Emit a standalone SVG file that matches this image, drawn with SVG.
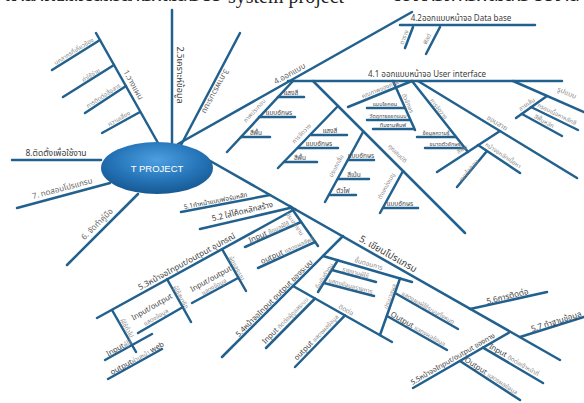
<svg xmlns="http://www.w3.org/2000/svg" width="584" height="403" viewBox="0 0 584 403">
<defs>
<radialGradient id="hub" cx="50%" cy="35%" r="65%">
<stop offset="0" stop-color="#4d9fe2"/>
<stop offset="0.6" stop-color="#2574b8"/>
<stop offset="1" stop-color="#175891"/>
</radialGradient>
<style>
text{font-family:'Noto Sans Thai','Noto Sans Thai UI','Loma','Garuda','Norasi','Tlwg Typo','DejaVu Sans','Noto Sans',sans-serif;text-anchor:middle}
.ln{stroke:#22618e;stroke-width:2.5;stroke-linecap:round;fill:none}
.m{font-size:8.5px;fill:#3c3c3c}
.g{font-size:8px;fill:#666}
.s{font-size:6px;fill:#8a8a8a}
.d{font-size:6.5px;fill:#454545}
.e{font-size:7.5px;fill:#444}
.st{text-anchor:start}
.hub{font-family:'Liberation Sans',Arial,sans-serif;font-size:9.5px;fill:#fff}
.top{font-size:20px;fill:#222;text-anchor:start}
</style>
</defs>
<rect width="584" height="403" fill="#fff"/>

<!-- heading line running off the top edge -->
<text class="top" x="4" y="1" textLength="218">แผนผังแสดงขั้นตอนการพัฒนาระบบ</text>
<text class="top" x="228" y="3" style="font-family:'Liberation Serif',serif">system project</text>
<text class="top" x="392" y="1" textLength="188">ของโครงการพัฒนาระบบงาน</text>

<g id="connectors">
<line class="ln" x1="12" y1="160" x2="101" y2="160"/>
<line class="ln" x1="17" y1="208" x2="110" y2="183"/>
<line class="ln" x1="67" y1="265" x2="138" y2="194"/>
<line class="ln" x1="96" y1="33" x2="158" y2="143"/>
<line class="ln" x1="52" y1="70" x2="100" y2="40"/>
<line class="ln" x1="63" y1="97" x2="114" y2="65"/>
<line class="ln" x1="85" y1="113" x2="126" y2="86"/>
<line class="ln" x1="102" y1="133" x2="140" y2="112"/>
<line class="ln" x1="172" y1="10" x2="172" y2="143"/>
<line class="ln" x1="240" y1="33" x2="181" y2="145"/>
<line class="ln" x1="178" y1="144" x2="412" y2="12"/>
<line class="ln" x1="400" y1="25" x2="535" y2="25"/>
<line class="ln" x1="413" y1="27" x2="405" y2="48"/>
<line class="ln" x1="440" y1="27" x2="426" y2="54"/>
<line class="ln" x1="288" y1="81" x2="562" y2="81"/>
<line class="ln" x1="293" y1="81" x2="227" y2="152"/>
<line class="ln" x1="278" y1="97" x2="304" y2="97"/>
<line class="ln" x1="259" y1="117" x2="295" y2="117"/>
<line class="ln" x1="241" y1="137" x2="270" y2="137"/>
<line class="ln" x1="313" y1="81" x2="465" y2="233"/>
<line class="ln" x1="338" y1="106" x2="278" y2="168"/>
<line class="ln" x1="311" y1="135" x2="347" y2="135"/>
<line class="ln" x1="298" y1="148" x2="338" y2="148"/>
<line class="ln" x1="284" y1="162" x2="317" y2="162"/>
<line class="ln" x1="363" y1="132" x2="325" y2="202"/>
<line class="ln" x1="348" y1="160" x2="374" y2="160"/>
<line class="ln" x1="338" y1="179" x2="369" y2="179"/>
<line class="ln" x1="330" y1="195" x2="356" y2="195"/>
<line class="ln" x1="403" y1="171" x2="380" y2="213"/>
<line class="ln" x1="383" y1="208" x2="418" y2="208"/>
<line class="ln" x1="348" y1="107" x2="412" y2="81"/>
<line class="ln" x1="393" y1="81" x2="415" y2="130"/>
<line class="ln" x1="367" y1="108" x2="405" y2="108"/>
<line class="ln" x1="367" y1="120" x2="410" y2="120"/>
<line class="ln" x1="373" y1="129" x2="414" y2="129"/>
<line class="ln" x1="412" y1="81" x2="468" y2="152"/>
<line class="ln" x1="417" y1="137" x2="456" y2="137"/>
<line class="ln" x1="425" y1="148" x2="465" y2="148"/>
<line class="ln" x1="418" y1="81" x2="577" y2="178"/>
<line class="ln" x1="500" y1="131" x2="437" y2="172"/>
<line class="ln" x1="478" y1="145" x2="520" y2="173"/>
<line class="ln" x1="487" y1="151" x2="457" y2="187"/>
<line class="ln" x1="513" y1="81" x2="584" y2="112"/>
<line class="ln" x1="547" y1="96" x2="516" y2="118"/>
<line class="ln" x1="531" y1="107" x2="578" y2="130"/>
<line class="ln" x1="522" y1="114" x2="562" y2="136"/>
<line class="ln" x1="205" y1="158" x2="560" y2="360"/>
<line class="ln" x1="181" y1="212" x2="270" y2="195"/>
<line class="ln" x1="200" y1="229" x2="292" y2="207.5"/>
<line class="ln" x1="97" y1="318" x2="295" y2="209"/>
<line class="ln" x1="112" y1="310" x2="136" y2="352"/>
<line class="ln" x1="167" y1="279" x2="191" y2="322"/>
<line class="ln" x1="222" y1="249" x2="246" y2="291"/>
<line class="ln" x1="105" y1="360" x2="152" y2="334"/>
<line class="ln" x1="108" y1="379" x2="162" y2="349"/>
<line class="ln" x1="138" y1="333" x2="183" y2="307"/>
<line class="ln" x1="192" y1="303" x2="238" y2="278"/>
<line class="ln" x1="290" y1="206" x2="318" y2="246"/>
<line class="ln" x1="245" y1="247" x2="301" y2="222"/>
<line class="ln" x1="258" y1="268" x2="315" y2="242"/>
<line class="ln" x1="222" y1="357" x2="343" y2="236"/>
<line class="ln" x1="323" y1="256" x2="412" y2="282"/>
<line class="ln" x1="338" y1="260" x2="318" y2="292"/>
<line class="ln" x1="332" y1="270" x2="376" y2="282"/>
<line class="ln" x1="324" y1="283" x2="374" y2="296"/>
<line class="ln" x1="400" y1="278.5" x2="380" y2="335"/>
<line class="ln" x1="395" y1="293" x2="458" y2="329"/>
<line class="ln" x1="387" y1="316" x2="447" y2="350"/>
<line class="ln" x1="293" y1="286" x2="392" y2="342"/>
<line class="ln" x1="315" y1="298.5" x2="266" y2="348"/>
<line class="ln" x1="345" y1="315.4" x2="295" y2="367"/>
<line class="ln" x1="413" y1="388" x2="510" y2="332"/>
<line class="ln" x1="483" y1="347.6" x2="543" y2="383"/>
<line class="ln" x1="460" y1="361" x2="520" y2="400"/>
<line class="ln" x1="470" y1="309" x2="547" y2="292"/>
<line class="ln" x1="520" y1="337" x2="584" y2="317"/>
</g>

<g id="hub-node">
<ellipse cx="157" cy="168" rx="56" ry="26" fill="url(#hub)"/>
<text class="hub" x="157" y="171.5">T PROJECT</text>
</g>

<g id="step-8"><text class="m" x="56" y="156">8.ติดตั้งเพื่อใช้งาน</text></g>
<g id="step-7"><text class="g" transform="translate(63 191) rotate(-15)">7. ทดสอบโปรแกรม</text></g>
<g id="step-6"><text class="g" transform="translate(99 226) rotate(-44.6)">6. จัดทำคู่มือ</text></g>

<g id="step-1">
<text class="g" transform="translate(131 86) rotate(60.6)">1.วางแผน</text>
<text class="s" transform="translate(75 53) rotate(-32)">บุคลากรที่เกี่ยวข้อง</text>
<text class="s" transform="translate(92 77) rotate(-32)">ค่าใช้จ่าย</text>
<text class="s" transform="translate(104.5 97.5) rotate(-33)">การติดต่อสื่อสาร</text>
<text class="s" transform="translate(120 120.5) rotate(-29)">ความเสี่ยง</text>
</g>
<g id="step-2"><text class="m" style="font-size:9px" transform="translate(177 75) rotate(90)">2.วิเคราะห์ข้อมูล</text></g>
<g id="step-3"><text class="g" transform="translate(213 90) rotate(117.8)">3.ภาพรวมระบบ</text></g>

<g id="step-4"><text class="g" transform="translate(291 76) rotate(-29.4)">4.ออกแบบ</text></g>
<g id="step-4-2">
<text class="m" style="font-size:8px" x="461" y="21">4.2ออกแบบหน้าจอ Data base</text>
<text class="s" transform="translate(406 38) rotate(-69)">ตาราง</text>
<text class="s" transform="translate(429 40) rotate(-64)">ฟิลด์</text>
</g>
<g id="step-4-1">
<text class="m" style="font-size:8px" x="427" y="77">4.1 ออกแบบหน้าจอ User interface</text>
<text class="s" transform="translate(256 112) rotate(-47)">ภาพประกอบ</text>
<text class="d" x="291" y="95">แสงสี</text>
<text class="d" x="279" y="115">แบบอักษร</text>
<text class="d" x="256" y="135">สีพื้น</text>
<text class="s" transform="translate(396 155) rotate(45)">คุณสมบัติ</text>
<text class="s" transform="translate(303 135) rotate(-46)">การจัดวาง</text>
<text class="d" x="330" y="133">แสงสี</text>
<text class="d" x="319" y="146">แบบอักษร</text>
<text class="d" x="300" y="160">สีพื้น</text>
<text class="s" transform="translate(338 167) rotate(-62)">ประเภทสื่อ</text>
<text class="d" x="361" y="158">แบบอักษร</text>
<text class="d" x="354" y="177">สีเน้น</text>
<text class="d" x="343" y="193">ตัวไฟ</text>
<text class="s" transform="translate(388 187) rotate(-61)">ตำแหน่งเมนู</text>
<text class="d" x="400" y="206">แบบอักษร</text>
<text class="s" transform="translate(381 91) rotate(-22)">คุณภาพของภาพ</text>
<text class="d" style="font-size:5.5px" x="385" y="106">แบบไอคอน</text>
<text class="d" style="font-size:5.5px" x="388" y="118">วัตถุการออกแบบ</text>
<text class="d" style="font-size:5.5px" x="393" y="127">ทีมงานพิมพ์</text>
<text class="s" transform="translate(406 104) rotate(65.4)">ตัวอักษร</text>
<text class="s" transform="translate(437 110) rotate(51.7)">การจัดวาง</text>
<text class="d" style="font-size:5.5px" x="436" y="135">ข้อมูลความรู้</text>
<text class="d" style="font-size:5.5px" x="445" y="146">ขนาดตัวอักษร</text>
<text class="s" style="font-size:7px" transform="translate(496 125) rotate(31.4)">ขอบสาย</text>
<text class="s" transform="translate(463 151) rotate(-33)">สีพื้น</text>
<text class="s" transform="translate(502 157) rotate(33.7)">หน้าจอหลักเนื้อหา</text>
<text class="s" transform="translate(470 172) rotate(-50)">แบบไอคอน</text>
<text class="s" style="font-size:7px" transform="translate(566 95) rotate(23.6)">รูปแบบ</text>
<text class="s" transform="translate(528 106) rotate(-35)">ลายเส้น</text>
<text class="s" transform="translate(556 116) rotate(26)">กรอบเนื้อหาหลักสี</text>
<text class="s" transform="translate(543 123) rotate(29)">สีพื้นหลัก</text>
</g>

<g id="step-5"><text class="m" style="font-size:9.5px" transform="translate(386.5 256.6) rotate(29.6)">5. เขียนโปรแกรม</text></g>
<g id="step-5-1"><text class="d" transform="translate(216 203) rotate(-11)">5.1ทำหน้าแบบฟอร์มหลัก</text></g>
<g id="step-5-2"><text class="m" style="font-size:8px" transform="translate(243 214) rotate(-13.4)">5.2 ใส่โค้ดหลักสร้าง</text></g>

<g id="step-5-3">
<text class="m" style="font-size:8px" transform="translate(188 264) rotate(-28.8)">5.3หน้าจอInput/output อุปกรณ์</text>
<text class="s" transform="translate(125 329) rotate(60.8)">ผู้ใช้ทั่วไป</text>
<text class="s" transform="translate(179 298) rotate(60.8)">ผู้ใช้สมาชิก</text>
<text class="s" transform="translate(235 269) rotate(60.8)">ผู้ดูแลระบบ</text>
<text class="e st" transform="translate(108 356.5) rotate(-29)">Input<tspan class="s">ผู้ใช้</tspan></text>
<text class="e st" transform="translate(112 375) rotate(-29)">output<tspan class="s">ผ่านหน้า</tspan> web</text>
<text class="e" transform="translate(153 309) rotate(-30)">Input/output</text>
<text class="s" transform="translate(157 319) rotate(-30)">แสดงข้อมูล</text>
<text class="e" transform="translate(212 281) rotate(-29)">Input/output</text>
<text class="s" transform="translate(215 288.5) rotate(-29)">แสดงข้อมูล</text>
</g>

<g id="step-5-3-flow">
<text class="s" transform="translate(293 225) rotate(55)">ประเภทงาน</text>
<text class="e st" transform="translate(250 243) rotate(-24.4)">Input <tspan class="s">ข้อมูลผู้ใช้</tspan></text>
<text class="e st" transform="translate(262 264) rotate(-24.5)">output <tspan class="s">แสดงผลลัพธ์</tspan></text>
</g>

<g id="step-5-4">
<text class="m" style="font-size:7.5px" transform="translate(276 300) rotate(-45)">5.4หน้าจอInput output ของระบบ</text>
<text class="s" style="font-size:6.5px" transform="translate(368 266) rotate(16.3)">ขั้นตอนการ</text>
<text class="s" transform="translate(326 277) rotate(-58)">ยืนยันตัวตน</text>
<text class="s" transform="translate(355 274.5) rotate(15.3)">รายงานผู้ใช้</text>
<text class="s" transform="translate(350 288) rotate(14.6)">แสดงข้อมูลรายการ</text>
<text class="s" transform="translate(392 297) rotate(-70)">ประมวลผล</text>
<text class="s" transform="translate(427 309.5) rotate(29.7)">แสดงผลผู้ใช้ระบบทั้งหมด</text>
<text class="e" transform="translate(417 331) rotate(29.5)">Output <tspan class="s">แสดงผลข้อมูล</tspan></text>
<text class="s" style="font-size:6.5px" transform="translate(345 312) rotate(29.5)">ติดต่อ</text>
<text class="e" transform="translate(287 322) rotate(-45.6)">Input <tspan class="s">ติดต่อผู้ดูแลระบบ</tspan></text>
<text class="e" transform="translate(318 339) rotate(-46)">output <tspan class="s">แสดงผลข้อมูล</tspan></text>
</g>

<g id="step-5-5">
<text class="m" style="font-size:7px" transform="translate(454 361) rotate(-30)">5.5หน้าจอInput/output ของทาง</text>
<text class="e" transform="translate(513 362) rotate(30.3)">Input <tspan class="s">ติดต่อเจ้าหน้าที่</tspan></text>
<text class="e" transform="translate(490 378) rotate(33)">Output <tspan class="s">แสดงผลข้อมูล</tspan></text>
</g>
<g id="step-5-6"><text class="m" style="font-size:8px" transform="translate(508 299) rotate(-13.9)">5.6การติดต่อ</text></g>
<g id="step-5-7"><text class="m" style="font-size:8px" transform="translate(557 324) rotate(-17.4)">5.7 ทำฐานข้อมูล</text></g>
</svg>
